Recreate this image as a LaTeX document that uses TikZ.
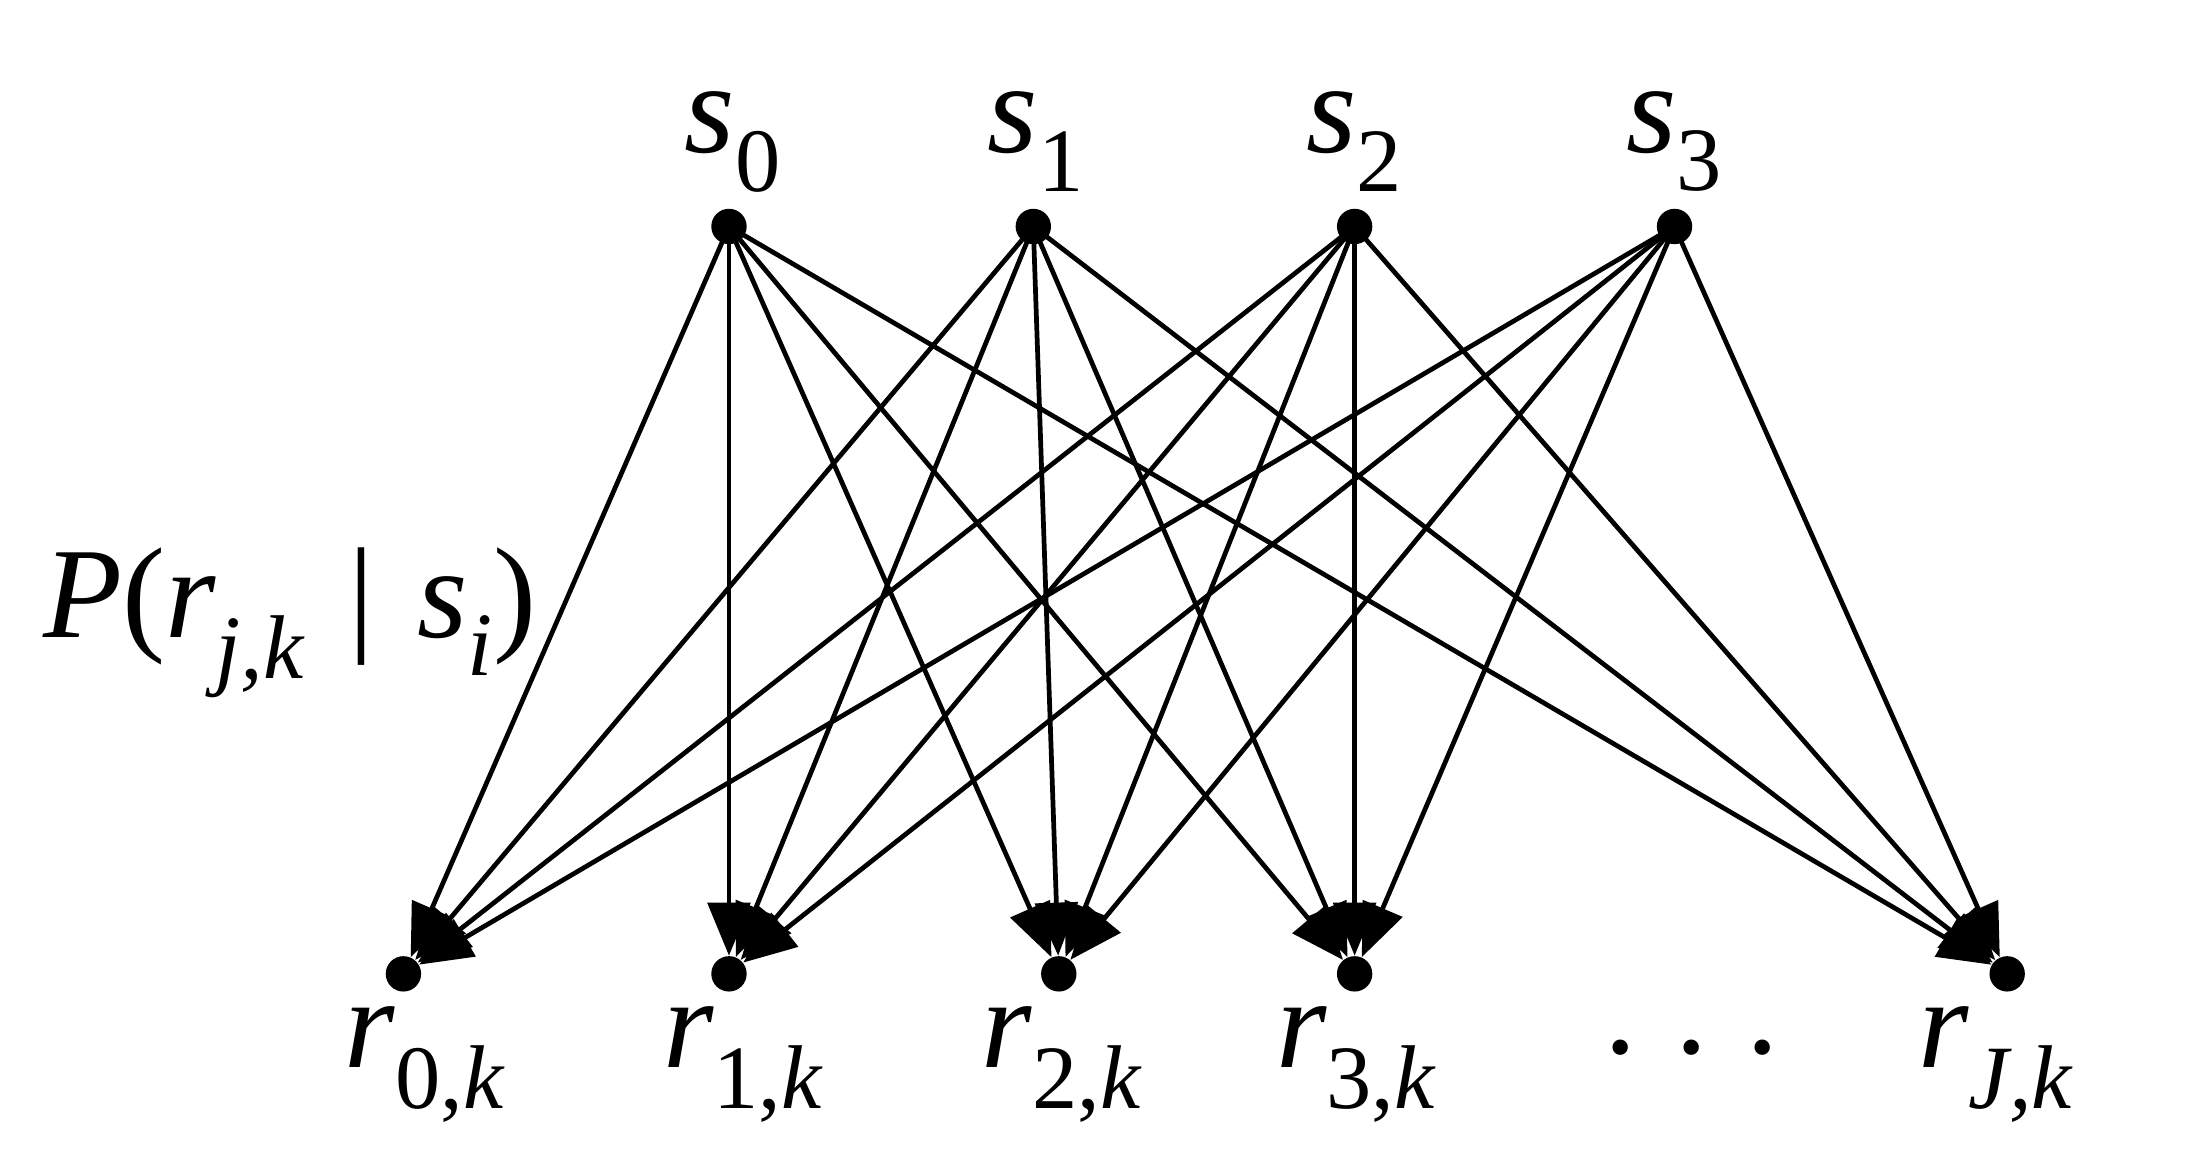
\documentclass[tikz,border=0pt]{standalone}
\usepackage{fontspec}
\setmainfont{Liberation Serif}
\usetikzlibrary{arrows.meta}
\newcommand{\sub}[1]{\textsubscript{#1}}
\begin{document}
\begin{tikzpicture}[x=0.02cm,y=-0.02cm,
  dot/.style={circle,fill=black,inner sep=0pt,minimum size=0.5cm},
  lab/.style={font=\fontsize{52}{56}\selectfont},
  edge/.style={line width=1.9pt,-{Triangle[length=0.75cm,width=0.6cm]}}]
\useasboundingbox (0,0) rectangle (1550,820);
\node[dot] (s0) at (515,160) {};
\node[dot] (s1) at (730,160) {};
\node[dot] (s2) at (957,160) {};
\node[dot] (s3) at (1183,160) {};
\node[dot] (r0) at (285,688) {};
\node[dot] (r1) at (515,688) {};
\node[dot] (r2) at (748,688) {};
\node[dot] (r3) at (957,688) {};
\node[dot] (rJ) at (1418,688) {};
\foreach \i/\x in {0/518,1/732,2/957,3/1183}
  \node[lab] (ls\i) at (\x,100) {\itshape s\sub{\upshape\i}};
\foreach \n/\t/\x in {0/0/300,1/1/525,2/2/750,3/3/958,J/\itshape J/1410}
  \node[lab] (lr\n) at (\x,752) {\itshape r\sub{\upshape\t,\itshape k}};
\node[lab] (dots) at (1195,740) {.\hspace{0.55cm}.\hspace{0.55cm}.};
\node[lab] (P) at (205,440) {\itshape P\upshape(\itshape r\sub{j,k}\upshape\,\,|\,\,\itshape s\sub{i}\upshape)};
\foreach \s in {s0,s1,s2,s3}
  \foreach \r in {r0,r1,r2,r3,rJ}
    \draw[edge] (\s.center) -- (\r);
\end{tikzpicture}
\end{document}
